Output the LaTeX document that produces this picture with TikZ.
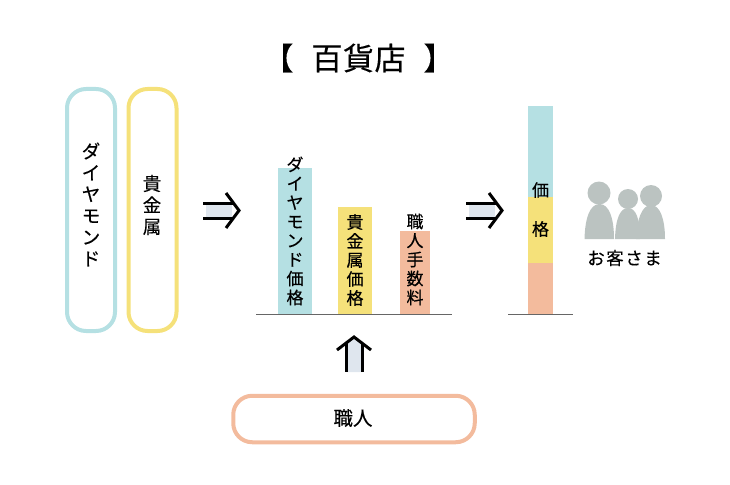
\documentclass[tikz,border=0pt]{standalone}
\usepackage{fontspec}
\setmainfont[FakeBold=0.35]{Noto Sans CJK JP}
\definecolor{cblue}{HTML}{B5E0E3}
\definecolor{cyellow}{HTML}{F5E17A}
\definecolor{csalmon}{HTML}{F3BB9D}
\definecolor{cgrey}{HTML}{BBC3C1}
\definecolor{cfill}{HTML}{DFE6EE}
\definecolor{cbase}{HTML}{666666}
\tikzset{
 x=1pt,y=-1pt,
 pill/.style={draw,line width=4pt,rounded corners=19pt,minimum width=48pt,inner sep=0pt},
 vlabel/.style={align=center,inner sep=0pt,font=\fontsize{17}{19}\selectfont},
 vlabelb/.style={align=center,inner sep=0pt,font=\fontsize{18.5}{21.5}\selectfont},
 bar/.style={draw=none,inner sep=0pt,anchor=south},
 baseline/.style={draw=cbase,line width=1.7pt},
 arrowline/.style={line width=3pt,black},
 person/.style={fill=cgrey,draw=none},
}
\begin{document}
\begin{tikzpicture}
\useasboundingbox (0,0) rectangle (730,484);
% title
\node[inner sep=0pt] (title) at (358.5,58) {\fontsize{31}{31}\selectfont 【\hspace{18pt}百\hspace{0.5pt}貨\hspace{0.5pt}店\hspace{18pt}】};
% input pills
\node[pill,draw=cblue,minimum height=242pt] (diamond) at (91,210) {};
\node[pill,draw=cyellow,minimum height=242pt] (gold) at (152.5,210) {};
\node[vlabelb] (diamondt) at (91,204.5) {ダ\\イ\\ヤ\\モ\\ン\\ド};
\node[vlabelb] (goldt) at (152,205) {貴\\金\\属};
\node[pill,draw=csalmon,minimum width=241.5pt,minimum height=46.5pt] (craft) at (354,419) {};
\node[inner sep=0pt,font=\fontsize{19.5}{19.5}\selectfont] (craftt) at (353,418) {職人};
% arrow 1
\coordinate (a1t) at (239,210.5);
\fill[cfill] (206,203) rectangle (232,218);
\draw[arrowline] (203,203) -- (233,203);
\draw[arrowline] (203,218) -- (233,218);
\draw[arrowline,line join=miter] (226,193) -- (a1t) -- (226,228);
% arrow 2
\coordinate (a2t) at (502,210.5);
\fill[cfill] (469,203) rectangle (495,218);
\draw[arrowline] (466,203) -- (496,203);
\draw[arrowline] (466,218) -- (496,218);
\draw[arrowline,line join=miter] (489,193) -- (a2t) -- (489,228);
% up arrow
\coordinate (a3t) at (354,337);
\fill[cfill] (346,343) -- (a3t) -- (362,343) -- (362,372) -- (346,372) -- cycle;
\draw[arrowline] (346,343) -- (346,372);
\draw[arrowline] (362,343) -- (362,372);
\draw[arrowline,line join=miter] (337,350) -- (a3t) -- (371,350);
% bars
\node[bar,fill=cblue,minimum width=34pt,minimum height=146pt] (b1) at (295,314) {};
\node[bar,fill=cyellow,minimum width=34pt,minimum height=107pt] (b2) at (355,314) {};
\node[bar,fill=csalmon,minimum width=30pt,minimum height=83pt] (b3) at (415,314) {};
\draw[baseline] (256,314.5) -- (452,314.5);
\node[vlabel] (b1t) at (295,231) {ダ\\イ\\ヤ\\モ\\ン\\ド\\価\\格};
\node[vlabel] (b2t) at (355,260) {貴\\金\\属\\価\\格};
\node[vlabel] (b3t) at (415,259.5) {職\\人\\手\\数\\料};
% stack
\node[bar,fill=csalmon,minimum width=25pt,minimum height=51pt] (s3) at (540.5,314) {};
\node[bar,fill=cyellow,minimum width=25pt,minimum height=66pt] (s2) at (540.5,263) {};
\node[bar,fill=cblue,minimum width=25pt,minimum height=91pt] (s1) at (540.5,197) {};
\draw[baseline] (508,314.5) -- (573,314.5);
\node[inner sep=0pt,font=\fontsize{17}{17}\selectfont] (st1) at (540.5,190) {価};
\node[inner sep=0pt,font=\fontsize{17}{17}\selectfont] (st2) at (540.5,229) {格};
% people
\fill[person] (651,196) circle (11);
\fill[person] (636,239) .. controls (637,219) and (642,205) .. (651,205) .. controls (660,205) and (665,219) .. (665,239) -- cycle;
\fill[person] (628,199) circle (10);
\fill[person] (615,239) .. controls (615.5,219) and (620,208) .. (628,208) .. controls (636,208) and (640,219) .. (640,239) -- cycle;
\fill[person] (599,193) circle (11.5);
\fill[person] (584.5,239) .. controls (585,218) and (590,204) .. (599.5,204) .. controls (609,204) and (614,218) .. (614,239) -- cycle;
\node[inner sep=0pt] (guests) at (624.5,258) {\fontsize{17.5}{17.5}\selectfont お\hspace{1.5pt}客\hspace{1.5pt}さ\hspace{1.5pt}ま};
\end{tikzpicture}
\end{document}
